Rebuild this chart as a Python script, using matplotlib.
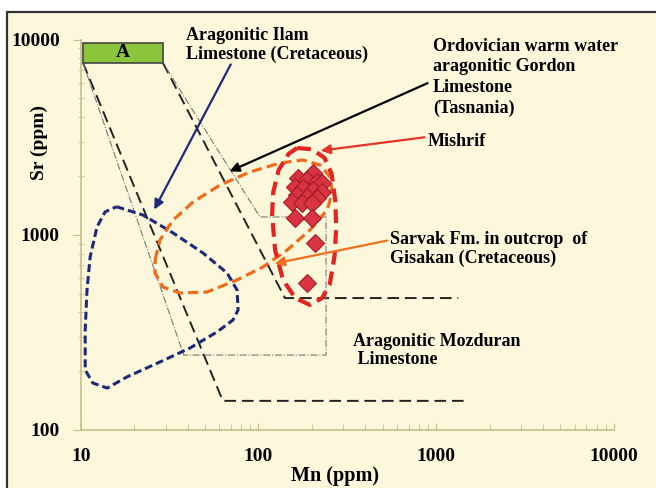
import matplotlib
matplotlib.use("Agg")
import matplotlib.pyplot as plt
from matplotlib.patches import Rectangle
from matplotlib.ticker import FixedLocator, FixedFormatter, LogLocator, NullFormatter

plt.rcParams["font.family"] = ["Liberation Serif", "DejaVu Serif"]
plt.rcParams["font.weight"] = "bold"

# green "A" field
box_a_mn = [10.3, 29]
box_a_sr = [7600, 9600]

# big dashed outline (outer)
outer_mn = [10.3, 63, 1500]
outer_sr = [7600, 141, 141]
# big dashed outline (inner)
inner_mn = [29, 141, 1330]
inner_sr = [7600, 474, 474]
# thin dash-dot outline
thin_mn = [10.3, 38, 240, 240, 102, 29]
thin_sr = [7600, 242, 242, 1233, 1233, 7600]

# Aragonitic Ilam Limestone field (blue)
ilam_mn = [15.9, 22.4, 33.1, 48.8, 66.6, 75.8, 76.8, 71.9, 58.5, 41.2, 27.9, 18.2,
           14.1, 11.7, 10.6, 10.6, 10.85, 11.3, 12.35, 13.7, 15.9]
ilam_sr = [1392, 1262, 1021, 806, 637, 521, 412, 366, 318, 263, 223, 187,
           164, 174, 203, 325, 521, 769, 1096, 1308, 1392]

# Sarvak Fm. field (orange)
sarvak_mn = [26.2, 27.9, 33.1, 42.9, 60.8, 89.7, 132, 178, 222, 253, 260, 243,
             195, 145, 106, 75.8, 51.4, 36.2, 29.0, 26.2, 26.2]
sarvak_sr = [743, 940, 1190, 1472, 1798, 2096, 2331, 2414, 2276, 1976, 1636, 1339,
             1058, 835, 684, 587, 509, 503, 540, 637, 743]

# Mishrif field (red)
mishrif_mn = [165, 200, 235, 258, 270, 274, 268, 252, 228, 195, 161, 137.5, 124,
              119.3, 121, 130, 148, 165]
mishrif_sr = [2782, 2740, 2480, 2050, 1507, 1100, 780, 560, 474, 437, 474, 587, 835,
              1262, 1650, 2150, 2600, 2782]

# Mishrif samples
sample_mn = [203, 167, 188, 214, 228, 161, 178, 203, 228, 165, 188, 214,
             155, 176, 200, 161, 200, 208, 188]
sample_sr = [2070, 1950, 1910, 1860, 1840, 1760, 1740, 1700, 1660, 1600, 1560, 1540,
             1470, 1450, 1450, 1220, 1220, 910, 565]

x_ticks = [10, 100, 1000, 10000]
y_ticks = [100, 1000, 10000]

bg = "#fdf8dc"
axis_col = "#c8bd8a"

fig = plt.figure(figsize=(6.56, 4.88), dpi=100, facecolor="white")
fig.patches.append(Rectangle((7 / 656, -0.02), 1.05, 1 - 12 / 488 + 0.02,
                             transform=fig.transFigure, facecolor=bg,
                             edgecolor="#333333", lw=1.6, zorder=-10))
ax = fig.add_axes([80.7 / 656, 58 / 488, 533.3 / 656, 390.5 / 488])
ax.set_facecolor("none")
ax.set_xscale("log")
ax.set_yscale("log")
ax.set_xlim(10, 10000)
ax.set_ylim(100, 10000)

for s in ["top", "right"]:
    ax.spines[s].set_visible(False)
for s in ["left", "bottom"]:
    ax.spines[s].set_color(axis_col)
    ax.spines[s].set_linewidth(1.2)

ax.xaxis.set_major_locator(FixedLocator(x_ticks))
ax.xaxis.set_major_formatter(FixedFormatter([str(v) for v in x_ticks]))
ax.yaxis.set_major_locator(FixedLocator(y_ticks))
ax.yaxis.set_major_formatter(FixedFormatter([str(v) for v in y_ticks]))
for a in (ax.xaxis, ax.yaxis):
    a.set_minor_locator(LogLocator(base=10, subs=range(2, 10)))
    a.set_minor_formatter(NullFormatter())
ax.tick_params(axis="x", which="major", direction="in", length=5, color=axis_col,
               labelsize=14, pad=13)
ax.tick_params(axis="x", which="minor", direction="in", length=4, color=axis_col)
ax.tick_params(axis="y", which="major", direction="out", length=6, color=axis_col,
               labelsize=14, pad=9)
ax.tick_params(axis="y", which="minor", direction="inout", length=5, color=axis_col)

ax.set_xlabel("Mn (ppm)", fontsize=14.5, fontweight="bold")
ax.xaxis.set_label_coords(0.477, -0.093)
ax.xaxis.label.set_va("top")
ax.set_ylabel("Sr (ppm)", fontsize=14, fontweight="bold")
ax.yaxis.set_label_coords(-0.061, 0.735)

# outlines
ax.plot(outer_mn, outer_sr, color="#222222", lw=1.4, dashes=(6, 3))
ax.plot(inner_mn, inner_sr, color="#222222", lw=1.4, dashes=(6, 3))
ax.plot(thin_mn, thin_sr, color="#777777", lw=0.8, linestyle="-.")

ax.add_patch(Rectangle((box_a_mn[0], box_a_sr[0]), box_a_mn[1] - box_a_mn[0],
                       box_a_sr[1] - box_a_sr[0], facecolor="#8cc43c",
                       edgecolor="#444444", lw=1.2, zorder=4))
ax.text((box_a_mn[0] * box_a_mn[1]) ** 0.5, (box_a_sr[0] * box_a_sr[1]) ** 0.5, "A",
        ha="center", va="center", fontsize=14, fontweight="bold", zorder=5)

ax.plot(ilam_mn, ilam_sr, color="#1e2a78", lw=2.2, dashes=(2.6, 1.3))
ax.plot(sarvak_mn, sarvak_sr, color="#f26b1d", lw=2.3, dashes=(3.2, 1.6))
ax.plot(sample_mn, sample_sr, linestyle="none", marker="D", markersize=9.5,
        markerfacecolor="#d9343f", markeredgecolor="#a51d2a", markeredgewidth=0.8)
ax.plot(mishrif_mn, mishrif_sr, color="#e52421", lw=3, dashes=(3.3, 1.7))

# annotations
ax.annotate("", xy=(25.5, 1308), xytext=(71, 7673),
            arrowprops=dict(arrowstyle="-|>", color="#1f2a7a", lw=1.6, mutation_scale=14))
ax.text(39, 11600, "Aragonitic Ilam\nLimestone (Cretaceous)", ha="left", va="top",
        fontsize=13, fontweight="bold", linespacing=1.15)

ax.annotate("", xy=(66.6, 2084), xytext=(924, 6058),
            arrowprops=dict(arrowstyle="-|>", color="black", lw=1.6, mutation_scale=14))
ax.text(960, 10180, "Ordovician warm water\naragonitic Gordon\nLimestone\n(Tasnania)",
        ha="left", va="top", fontsize=13, fontweight="bold", linespacing=1.27)

ax.annotate("", xy=(216, 2685), xytext=(889, 3168),
            arrowprops=dict(arrowstyle="-|>", color="#e5332a", lw=1.6, mutation_scale=14))
ax.text(900, 3021, "Mishrif", ha="left", va="center", fontsize=13, fontweight="bold")

ax.annotate("", xy=(119.3, 708), xytext=(550, 940),
            arrowprops=dict(arrowstyle="-|>", color="#f07020", lw=1.6, mutation_scale=14))
ax.text(550, 1050, "Sarvak Fm. in outcrop  of\nGisakan (Cretaceous)", ha="left",
        va="top", fontsize=13, fontweight="bold", linespacing=1.15)

ax.text(341, 314, "Aragonitic Mozduran\n Limestone", ha="left", va="top",
        fontsize=13, fontweight="bold", linespacing=1.05)

fig.savefig("out.png", dpi=100, facecolor="white")
